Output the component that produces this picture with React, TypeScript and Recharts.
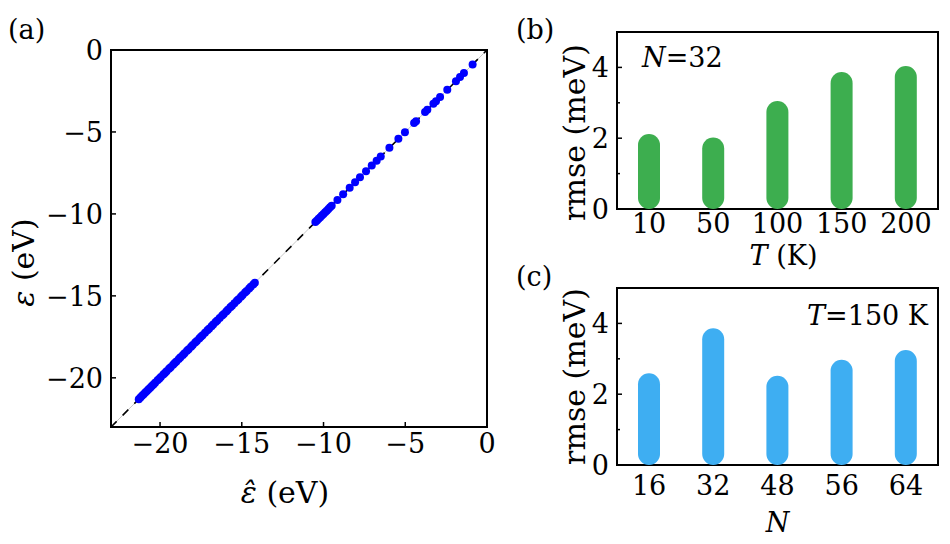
import {
  ScatterChart,
  Scatter,
  BarChart,
  Bar,
  XAxis,
  YAxis,
  ReferenceLine,
  ReferenceArea,
  Label,
} from "recharts";

const FONT = "'DejaVu Serif', serif";
const FS = 27;
const FS_TITLE = 30;

// (a) eigenvalues: predicted vs reference lie on the diagonal
const EPS_LEVELS = [
  -21.3, -21.2, -21.1, -21.0, -20.9, -20.8, -20.7, -20.6, -20.5, -20.4, -20.3,
  -20.15, -20.05, -19.95, -19.8, -19.7, -19.6, -19.45, -19.35, -19.2, -19.1,
  -19.0, -18.85, -18.75, -18.6, -18.5, -18.35, -18.25, -18.1, -18.0, -17.85,
  -17.75, -17.6, -17.5, -17.4, -17.25, -17.1, -17.0, -16.85, -16.75, -16.6,
  -16.5, -16.35, -16.2, -16.1, -15.95, -15.85, -15.7, -15.6, -15.45, -15.3,
  -15.2, -15.05, -14.95, -14.8, -14.7, -14.55, -14.45, -14.3, -14.2,
  -10.5, -10.4, -10.3, -10.2, -10.1, -10.0, -9.9, -9.8, -9.7, -9.6, -9.5,
  -9.15, -8.8, -8.4, -8.07, -7.77, -7.4, -7.05, -6.75, -6.5, -5.97, -5.42,
  -5.02, -4.46, -4.34, -3.79, -3.65, -3.28, -3.12, -2.87, -2.43, -1.9, -1.65,
  -1.41, -0.88,
];
const A_DOMAIN: [number, number] = [-23, 0];
const A_TICKS = [-20, -15, -10, -5, 0];

// (b) rmse vs temperature, N=32
const T_LABELS = ["10", "50", "100", "150", "200"];
const RMSE_VS_T = [2.12, 2.02, 3.05, 3.87, 4.04];

// (c) rmse vs N, T=150 K
const N_LABELS = ["16", "32", "48", "56", "64"];
const RMSE_VS_N = [2.59, 3.86, 2.52, 2.97, 3.25];

const RMSE_TICKS = [0, 1, 2, 3, 4];
const RMSE_DOMAIN: [number, number] = [0, 5];

const GREEN = "#3dae4f";
const SKY = "#3eaef2";
const BLUE = "#0000ff";

const minus = (v: number) => (v < 0 ? `\u2212${-v}` : `${v}`);

const txt = { fontFamily: FONT, fontSize: FS, fill: "#000" };

// ticks point inward, labels outside
const leftTick = (labelOf: (v: number) => string | null) => (p: any) => {
  const v = p.payload.value as number;
  const label = labelOf(v);
  return (
    <g>
      <line x1={p.x} x2={p.x + (label ? 5 : 3)} y1={p.y} y2={p.y} stroke="#000" strokeWidth={1.5} />
      {label && (
        <text x={p.x - 8} y={p.y} dy="0.36em" textAnchor="end" {...txt}>
          {label}
        </text>
      )}
    </g>
  );
};

const bottomTick = (dy: number, mark: boolean) => (p: any) => (
  <g>
    {mark && <line x1={p.x} x2={p.x} y1={p.y} y2={p.y - 5} stroke="#000" strokeWidth={1.5} />}
    <text x={p.x} y={p.y + dy} textAnchor="middle" {...txt}>
      {typeof p.payload.value === "number" ? minus(p.payload.value) : p.payload.value}
    </text>
  </g>
);

const xTitle = (dx: number, dy: number, content: React.ReactNode, size = FS) => (p: any) => {
  const vb = p.viewBox;
  return (
    <text x={vb.x + vb.width / 2 + dx} y={vb.y + dy} textAnchor="middle" {...txt} fontSize={size}>
      {content}
    </text>
  );
};

const yTitle = (x: number, dy: number, content: React.ReactNode) => (p: any) => {
  const vb = p.viewBox;
  const cy = vb.y + vb.height / 2 + dy;
  return (
    <text
      x={x}
      y={cy}
      textAnchor="middle"
      transform={`rotate(-90 ${x} ${cy})`}
      {...txt}
      fontSize={FS_TITLE}
    >
      {content}
    </text>
  );
};

const dot = (p: any) => <circle cx={p.cx} cy={p.cy} r={4} fill={BLUE} />;

function PanelA() {
  const data = EPS_LEVELS.map((v) => ({ eh: v, e: v }));
  return (
    <ScatterChart width={500} height={544} margin={{ top: 50, right: 13, bottom: 0, left: 0 }}>
      <XAxis
        type="number"
        dataKey="eh"
        domain={A_DOMAIN}
        ticks={A_TICKS}
        interval={0}
        height={117}
        axisLine={false}
        tickLine={false}
        tickSize={0}
        tickMargin={0}
        tick={bottomTick(26, true)}
        allowDataOverflow
      >
        <Label
          content={xTitle(-14, 76, (
            <>
              <tspan fontStyle="italic">{"\u03b5\u0302"}</tspan>
              <tspan> (eV)</tspan>
            </>
          ), FS_TITLE)}
        />
      </XAxis>
      <YAxis
        type="number"
        dataKey="e"
        domain={A_DOMAIN}
        ticks={A_TICKS}
        interval={0}
        width={111}
        axisLine={false}
        tickLine={false}
        tickSize={0}
        tickMargin={0}
        tick={leftTick(minus)}
        allowDataOverflow
      >
        <Label
          content={yTitle(34, 24, (
            <>
              <tspan fontStyle="italic">{"\u03b5"}</tspan>
              <tspan> (eV)</tspan>
            </>
          ))}
        />
      </YAxis>
      <ReferenceLine
        segment={[
          { x: A_DOMAIN[0], y: A_DOMAIN[0] },
          { x: A_DOMAIN[1], y: A_DOMAIN[1] },
        ]}
        stroke="#c8c8c8"
        strokeWidth={1}
        ifOverflow="visible"
      />
      <ReferenceLine
        segment={[
          { x: A_DOMAIN[0], y: A_DOMAIN[0] },
          { x: A_DOMAIN[1], y: A_DOMAIN[1] },
        ]}
        stroke="#000"
        strokeWidth={1.6}
        strokeDasharray="8 8.5"
        ifOverflow="visible"
      />
      <Scatter data={data} fill={BLUE} shape={dot} isAnimationActive={false} />
      <ReferenceArea
        x1={A_DOMAIN[0]}
        x2={A_DOMAIN[1]}
        y1={A_DOMAIN[0]}
        y2={A_DOMAIN[1]}
        fill="none"
        fillOpacity={0}
        stroke="#000"
        strokeWidth={2}
        ifOverflow="visible"
      />
    </ScatterChart>
  );
}

interface RmseProps {
  labels: string[];
  values: number[];
  color: string;
  height: number;
  top: number;
  tickDy: number;
  titleDy: number;
  titleDx: number;
  yTitleDy: number;
  title: React.ReactNode;
}

function RmsePanel({ labels, values, color, height, top, tickDy, titleDy, titleDx, yTitleDy, title }: RmseProps) {
  const rows = labels.map((k, i) => ({ k, rmse: values[i] }));
  return (
    <BarChart width={440} height={height} data={rows} margin={{ top, right: 12, bottom: 0, left: 0 }}>
      <XAxis
        dataKey="k"
        interval={0}
        height={height - top - 177}
        axisLine={false}
        tickLine={false}
        tickSize={0}
        tickMargin={0}
        tick={bottomTick(tickDy, false)}
      >
        <Label content={xTitle(titleDx, titleDy, title)} />
      </XAxis>
      <YAxis
        type="number"
        domain={RMSE_DOMAIN}
        ticks={RMSE_TICKS}
        interval={0}
        width={107}
        axisLine={false}
        tickLine={false}
        tickSize={0}
        tickMargin={0}
        tick={leftTick((v) => (v % 2 === 0 ? `${v}` : null))}
      >
        <Label content={yTitle(75, yTitleDy, "rmse (meV)")} />
      </YAxis>
      <Bar dataKey="rmse" fill={color} barSize={22} radius={11} isAnimationActive={false} />
      <ReferenceArea
        y1={RMSE_DOMAIN[0]}
        y2={RMSE_DOMAIN[1]}
        fill="none"
        fillOpacity={0}
        stroke="#000"
        strokeWidth={2}
        ifOverflow="visible"
      />
    </BarChart>
  );
}

export default function App() {
  return (
    <div style={{ position: "absolute", left: 0, top: 0, width: 950, height: 544, background: "#fff" }}>
      <div style={{ position: "absolute", left: 0, top: 0 }}>
        <PanelA />
      </div>
      <div style={{ position: "absolute", left: 510, top: 0 }}>
        <RmsePanel
          labels={T_LABELS}
          values={RMSE_VS_T}
          color={GREEN}
          height={270}
          top={32}
          tickDy={24}
          titleDy={56}
          titleDx={6}
          yTitleDy={12}
          title={
            <>
              <tspan fontStyle="italic">T</tspan>
              <tspan> (K)</tspan>
            </>
          }
        />
      </div>
      <div style={{ position: "absolute", left: 510, top: 260 }}>
        <RmsePanel
          labels={N_LABELS}
          values={RMSE_VS_N}
          color={SKY}
          height={284}
          top={28}
          tickDy={30}
          titleDy={67}
          titleDx={0}
          yTitleDy={0}
          title={<tspan fontStyle="italic">N</tspan>}
        />
      </div>
      <svg
        width={950}
        height={544}
        style={{ position: "absolute", left: 0, top: 0, pointerEvents: "none" }}
      >
        <text x={8} y={39} {...txt}>(a)</text>
        <text x={516} y={39} {...txt}>(b)</text>
        <text x={516} y={286} {...txt}>(c)</text>
        <text x={642} y={67} {...txt}>
          <tspan fontStyle="italic">N</tspan>=32
        </text>
        <text x={928} y={325} textAnchor="end" {...txt}>
          <tspan fontStyle="italic">T</tspan>=150 K
        </text>
      </svg>
    </div>
  );
}
